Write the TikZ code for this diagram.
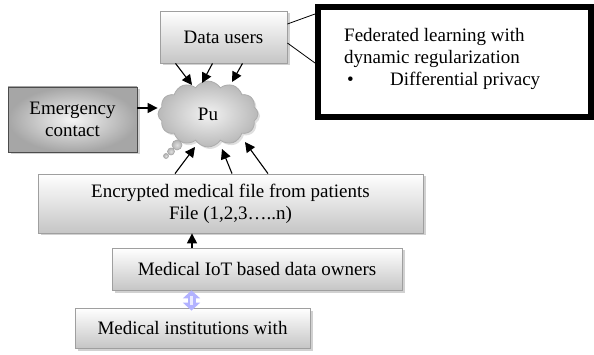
\documentclass[tikz,border=0pt]{standalone}
\usepackage{fontspec}
\setmainfont{Liberation Serif}
\usetikzlibrary{arrows.meta,shapes.symbols,shadows,calc}

\tikzset{
  shade box/.style={draw=gray!75, line width=0.8pt, top color=white, bottom color=gray!45,
    drop shadow={shadow xshift=2.5pt, shadow yshift=-2.5pt, fill=gray!60, opacity=.6},
    inner sep=2pt, align=center, font=\fontsize{19}{22}\selectfont},
  dark box/.style={draw=gray!60!black, line width=0.8pt, inner color=gray!8, outer color=gray!70,
    drop shadow={shadow xshift=2.5pt, shadow yshift=-2.5pt, fill=gray!60, opacity=.6},
    align=center, font=\fontsize{19}{22}\selectfont},
  link/.style={line width=1.1pt, -{Triangle[length=10pt,width=10pt]}},
  bubble/.style={draw=gray!70, line width=0.6pt, inner color=gray!25, outer color=gray!60},
}

\begin{document}
\begin{tikzpicture}[x=1pt,y=-1pt]
\useasboundingbox (0,0) rectangle (594,355);

% boxes
\node[shade box, minimum width=127pt, minimum height=52pt] (du) at (223.5,37) {Data users};
\node[dark box, minimum width=129pt, minimum height=65pt] (ec) at (72.5,119.5) {Emergency\\contact};
\node[shade box, minimum width=385pt, minimum height=59pt] (enc) at (230.5,203.5)
  {Encrypted medical file from patients\\File (1,2,3\ldots..n)};
\node[shade box, minimum width=290pt, minimum height=42pt] (iot) at (257,269) {Medical IoT based data owners};
\node[shade box, minimum width=235pt, minimum height=40pt] (mi) at (192.5,328) {Medical institutions with};

% cloud with thought bubbles
\node[cloud, cloud puffs=12, cloud puff arc=115, aspect=1.55, draw=gray!65, line width=0.8pt,
  inner color=gray!10, outer color=gray!55, minimum width=100pt, minimum height=66pt,
  drop shadow={shadow xshift=2pt, shadow yshift=-2pt, fill=gray!50, opacity=.5},
  font=\fontsize{19}{22}\selectfont] (pu) at (208,114) {Pu};
\node[bubble, circle, minimum size=10pt, inner sep=0pt] (b1) at (177,145) {};
\node[bubble, circle, minimum size=7pt, inner sep=0pt] (b2) at (171,151.5) {};
\node[bubble, circle, minimum size=5pt, inner sep=0pt] (b3) at (166,156) {};

% framed method box
\node[draw, line width=6pt, minimum width=273pt, minimum height=110pt, inner sep=0pt] (fed) at (454.5,62) {};
\node[draw, double, line width=0.6pt, double distance=1.6pt, minimum width=261pt, minimum height=96pt,
  inner sep=0pt] (fedin) at (456.5,62) {};
\node[anchor=north west, align=left, inner sep=0pt, font=\fontsize{19}{22}\selectfont] (fedtxt) at (344,28)
  {Federated learning with\\dynamic regularization\\\makebox[46pt][l]{\hspace{3pt}\textbullet}Differential privacy};

% connectors
\draw[line width=0.8pt] ([yshift=13pt]du.east) -- ([yshift=48pt]fed.west);
\draw[line width=0.8pt] ([yshift=-6pt]du.east) -- ([yshift=-1pt]fed.west);

\draw[link] ([xshift=-48pt]du.south) -- ($(pu.center)+(-16,-29)$);
\draw[link] ([xshift=-11pt]du.south) -- ($(pu.center)+(-6,-31)$);
\draw[link] ([xshift=19pt]du.south) -- ($(pu.center)+(24,-32)$);

\draw[link] (ec.east |- 0,108) -- (pu.west |- 0,108);

\draw[link] ([xshift=-55.5pt]enc.north) -- ($(pu.center)+(-13,33)$);
\draw[link] ([xshift=1.5pt]enc.north) -- ($(pu.center)+(14,35)$);
\draw[link] ([xshift=37.5pt]enc.north) -- ($(pu.center)+(37,28)$);

\draw[link] ([xshift=-65pt]iot.north) -- ([xshift=-65pt]iot.north |- enc.south);

% two-way link between owners and institutions
\draw[line width=8pt, draw=blue!30, {Triangle[length=8pt,width=17pt]}-{Triangle[length=8pt,width=17pt]}]
  ([xshift=-65.5pt,yshift=0pt]iot.south) -- ([xshift=-1pt,yshift=-3pt]mi.north);
\draw[line width=2.5pt, draw=white, opacity=.75]
  ([xshift=-65.5pt,yshift=-6pt]iot.south) -- ([xshift=-1pt,yshift=3pt]mi.north);
\end{tikzpicture}
\end{document}
